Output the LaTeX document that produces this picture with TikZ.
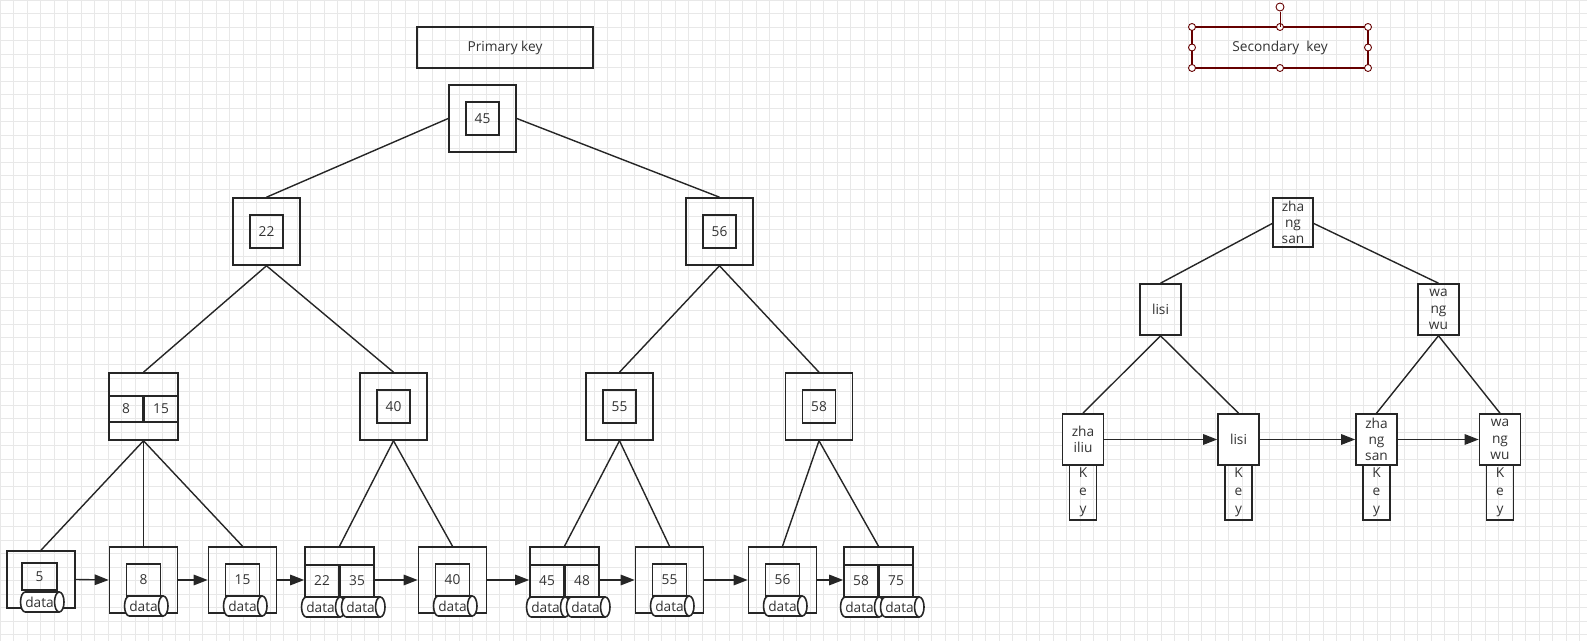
\documentclass[tikz,border=0pt]{standalone}
\usepackage{fontspec}
\setmainfont{Open Sans}
\usetikzlibrary{shapes.geometric,arrows.meta}
\newlength\uu \setlength\uu{0.02cm}
\begin{document}
\begin{tikzpicture}[x=0.02cm,y=-0.02cm,
  every node/.style={font=\fontsize{7.8}{9.3}\selectfont,text=black!80,inner sep=0pt},
  box/.style={draw=black!85,line width=0.9pt,minimum width=#1\uu,minimum height=#1\uu},
  rbox/.style 2 args={draw=black!85,line width=0.9pt,minimum width=#1\uu,minimum height=#2\uu,align=center},
  ln/.style={draw=black!85,line width=0.8pt},
  ar/.style={ln,-{Triangle[length=8pt,width=6pt]}},
  cyl/.style={cylinder,draw=black!85,line width=0.9pt,minimum width=20\uu,minimum height=40\uu,aspect=0.9,fill=white,inner sep=0pt}]
\useasboundingbox (0,0) rectangle (1587,641);
\foreach \x in {0,13.5,...,1587} \draw[black!9,line width=0.3pt] (\x,0) -- (\x,641);
\foreach \y in {0,13.5,...,641} \draw[black!9,line width=0.3pt] (0,\y) -- (1587,\y);
% titles
\node[rbox={176}{41}] (pk) at (505,47.5) {Primary key};
\node[rbox={176}{41},draw=red!40!black] (sk) at (1280,47.5) {Secondary\ \ key};
\foreach \p in {(1192,27),(1280,27),(1368,27),(1192,47.5),(1368,47.5),(1192,68),(1280,68),(1368,68)}
  \draw[red!40!black,fill=white,line width=0.5pt] \p circle (3.5);
\draw[red!40!black,line width=0.5pt] (1280,27) -- (1280,12);
\draw[red!40!black,fill=white,line width=0.5pt] (1280,7) circle (4);
% internal nodes
\node[box=67] (r) at (482.5,118.5) {};
\node[box=33] at (r) {45};
\node[box=67] (n22) at (266.5,231.5) {};
\node[box=33] at (n22) {22};
\node[box=67] (n56) at (719.5,231.5) {};
\node[box=33] at (n56) {56};
\node[rbox={69}{67}] (n815) at (143.5,406.5) {};
\node[rbox={34}{26}] at (126,409) {8};
\node[rbox={34}{26}] at (161,409) {15};
\node[box=67] (n40) at (393.5,406.5) {};
\node[box=33] at (n40) {40};
\node[box=67] (n55) at (619.5,406.5) {};
\node[box=33] at (n55) {55};
\node[box=67] (n58) at (819,406.5) {};
\node[box=33] at (n58) {58};
% leaves single
\node[rbox={68}{57}] (l5) at (41,579.5) {};
\node[rbox={35}{27}] at (39.5,576.5) {5};
\node[cyl] at (39.5,602) {data};
\foreach \n/\x/\t in {l8/143.5/8,l15/242.5/15,l40/452.5/40,l55/669.5/55,l56/782.5/56}{
  \node[rbox={68}{66}] (\n) at (\x,580) {};
  \node[rbox={34}{32}] at (\x,580) {\t};
  \node[cyl] at (\x,606) {data};
}
% leaves double
\foreach \n/\x/\a/\b in {l2235/339.5/22/35,l4548/564.5/45/48,l5875/878.5/58/75}{
  \node[rbox={69}{66}] (\n) at (\x,580) {};
  \node[rbox={34}{32}] at (\x-17.5,581) {\a};
  \node[rbox={34}{32}] at (\x+17.5,581) {\b};
  \node[cyl] at (\x-19,607) {data};
  \node[cyl] at (\x+21,607) {data};
}
% edges
\draw[ln] (r.west) -- (n22.north);
\draw[ln] (r.east) -- (n56.north);
\draw[ln] (n22.south) -- (n815.north);
\draw[ln] (n22.south) -- (n40.north);
\draw[ln] (n56.south) -- (n55.north);
\draw[ln] (n56.south) -- (n58.north);
\draw[ln] (n815.south) -- (l5.north);
\draw[ln] (n815.south) -- (l8.north);
\draw[ln] (n815.south) -- (l15.north);
\draw[ln] (n40.south) -- (l2235.north);
\draw[ln] (n40.south) -- (l40.north);
\draw[ln] (n55.south) -- (l4548.north);
\draw[ln] (n55.south) -- (l55.north);
\draw[ln] (n58.south) -- (l56.north);
\draw[ln] (n58.south) -- (l5875.north);
\foreach \a/\b in {l5/l8,l8/l15,l15/l2235,l2235/l40,l40/l4548,l4548/l55,l55/l56,l56/l5875}
  \draw[ar] (\a.east) -- (\b.west);
% secondary tree
\node[rbox={40}{49}] (zs) at (1293,222.5) {zha\\ng\\san};
\node[rbox={41}{51}] (ls) at (1160.5,309.5) {lisi};
\node[rbox={41}{51}] (ww) at (1438.5,309.5) {wa\\ng\\wu};
\foreach \n/\x/\t in {a/1083/zha\\iliu,b/1238.5/lisi,c/1376.5/zha\\ng\\san,d/1500/wa\\ng\\wu}{
  \node[rbox={27}{55}] (k\n) at (\x,492.5) {K\\[1pt]e\\[1pt]y};
  \node[rbox={41}{51},fill=white] (s\n) at (\x,439.5) {\t};
}
\draw[ln] (zs.west) ++(0,1) -- (ls.north);
\draw[ln] (zs.east) ++(0,1) -- (ww.north);
\draw[ln] (ls.south) -- (sa.north);
\draw[ln] (ls.south) -- (sb.north);
\draw[ln] (ww.south) -- (sc.north);
\draw[ln] (ww.south) -- (sd.north);
\draw[ar] (sa.east) -- (sb.west);
\draw[ar] (sb.east) -- (sc.west);
\draw[ar] (sc.east) -- (sd.west);
\end{tikzpicture}
\end{document}
